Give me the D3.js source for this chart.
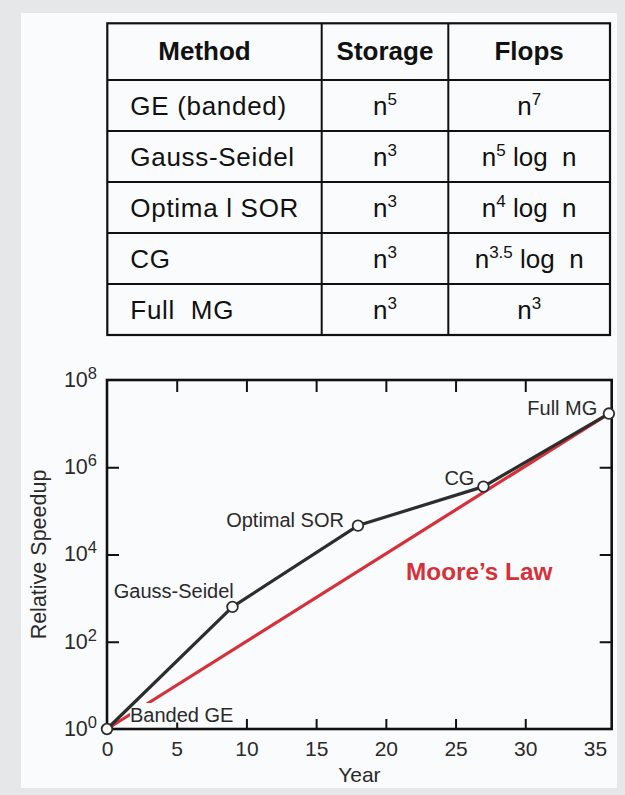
<!DOCTYPE html>
<html>
<head>
<meta charset="utf-8">
<script src="https://cdn.jsdelivr.net/npm/d3@7"></script>
<style>
body{margin:0;background:#e6e7e9;}
svg{display:block;font-family:"Liberation Sans",Arial,Helvetica,sans-serif;}
</style>
</head>
<body>
<svg id="chart" width="625" height="795"></svg>
<script>
// table data
const headers = ["Method", "Storage", "Flops"];
const methods = ["GE (banded)", "Gauss-Seidel", "Optima l SOR", "CG", "Full  MG"];
const storageExp = ["5", "3", "3", "3", "3"];
const flopsExp = ["7", "5", "4", "3.5", "3"];
const flopsLog = [false, true, true, true, false];

// plot data
const algNames = ["Banded GE", "Gauss-Seidel", "Optimal SOR", "CG", "Full MG"];
const algYears = [0, 9, 18, 27, 36];
const algSpeedup = [1, 630, 46000, 360000, 1.7e7];
const mooreYears = [0, 36];
const mooreSpeedup = [1, 1.7e7];
const xTickLabels = [0, 5, 10, 15, 20, 25, 30, 35];
const xTickMarks = [5, 10, 15, 20, 25, 30];
const yTickExp = [0, 2, 4, 6, 8];
const yTickMarksExp = [2, 4, 6];

const svg = d3.select("#chart");

// panel
svg.append("rect").attr("x", 21).attr("y", 13).attr("width", 596).attr("height", 775)
  .attr("fill", "#fafbfc");

// ---------- table ----------
const tLeft = 107.3, tTop = 23.3, headH = 56.7, rowH = 51;
const colX = [107.3, 321.7, 448.3, 610];
const headDx = [-10, 0, 0];
const tBottom = tTop + headH + methods.length * rowH;
const tab = svg.append("g");

tab.append("rect").attr("x", tLeft).attr("y", tTop)
  .attr("width", colX[3] - tLeft).attr("height", tBottom - tTop)
  .attr("fill", "none").attr("stroke", "#111").attr("stroke-width", 2.2);
tab.selectAll("line.col").data(colX.slice(1, 3)).enter().append("line")
  .attr("x1", d => d).attr("x2", d => d).attr("y1", tTop).attr("y2", tBottom)
  .attr("stroke", "#111").attr("stroke-width", 2);
tab.selectAll("line.row").data(d3.range(methods.length)).enter().append("line")
  .attr("x1", tLeft).attr("x2", colX[3])
  .attr("y1", i => tTop + headH + i * rowH).attr("y2", i => tTop + headH + i * rowH)
  .attr("stroke", "#111").attr("stroke-width", 2);

tab.selectAll("text.head").data(headers).enter().append("text")
  .attr("x", (d, i) => (colX[i] + colX[i + 1]) / 2 + headDx[i])
  .attr("y", tTop + headH / 2 + 8.5)
  .attr("text-anchor", "middle").attr("font-size", 26).attr("font-weight", "bold")
  .attr("fill", "#111").text(d => d);

const body = tab.selectAll("g.row").data(methods).enter().append("g")
  .attr("transform", (d, i) => `translate(0,${tTop + headH + i * rowH + rowH / 2 + 9})`);

body.append("text").attr("x", tLeft + 23).attr("font-size", 26).attr("fill", "#111")
  .attr("letter-spacing", 0.7).attr("xml:space", "preserve").text(d => d);

function power(sel, exp, rest) {
  sel.append("tspan").text("n");
  sel.append("tspan").attr("font-size", 17).attr("dy", -10).text(exp);
  if (rest) sel.append("tspan").attr("dy", 10).text(rest);
}

body.append("text").attr("x", (colX[1] + colX[2]) / 2).attr("text-anchor", "middle")
  .attr("font-size", 26).attr("fill", "#111")
  .each(function (d, i) { power(d3.select(this), storageExp[i], null); });

body.append("text").attr("x", (colX[2] + colX[3]) / 2).attr("text-anchor", "middle")
  .attr("font-size", 26).attr("fill", "#111").attr("xml:space", "preserve")
  .each(function (d, i) { power(d3.select(this), flopsExp[i], flopsLog[i] ? " log  n" : null); });

// ---------- plot ----------
const x = d3.scaleLinear().domain([0, 36.2]).range([107, 611.7]);
const y = d3.scaleLog().domain([1, 1e8]).range([729, 380]);

const axisColor = "#111", textColor = "#2a2a2a";

const gL = svg.append("g").attr("transform", `translate(${x(0)},0)`)
  .call(d3.axisLeft(y).tickValues(yTickExp.map(e => 10 ** e)).tickSizeInner(0).tickSizeOuter(0).tickPadding(10).tickFormat(""));
gL.select(".domain").remove();
gL.selectAll("text").attr("font-size", 21.5).attr("fill", textColor).attr("font-family", null)
  .attr("dy", "0.3em")
  .each(function (d) {
    const t = d3.select(this);
    t.append("tspan").text("10");
    t.append("tspan").attr("font-size", 16.5).attr("dy", -8).text(Math.round(Math.log10(d)));
  });

// inward ticks
svg.append("g").attr("transform", `translate(${x(0)},0)`)
  .call(d3.axisRight(y).tickValues(yTickMarksExp.map(e => 10 ** e)).tickSizeInner(12).tickSizeOuter(0).tickFormat(""))
  .call(g => g.select(".domain").remove())
  .selectAll("line").attr("stroke", axisColor).attr("stroke-width", 2);

svg.append("g").attr("transform", `translate(${x.range()[1]},0)`)
  .call(d3.axisLeft(y).tickValues(yTickMarksExp.map(e => 10 ** e)).tickSizeInner(12).tickSizeOuter(0).tickFormat(""))
  .call(g => g.select(".domain").remove())
  .selectAll("line").attr("stroke", axisColor).attr("stroke-width", 2);

const gB = svg.append("g").attr("transform", `translate(0,${y(1)})`)
  .call(d3.axisBottom(x).tickValues(xTickLabels).tickSizeInner(0).tickSizeOuter(0).tickPadding(12));
gB.select(".domain").remove();
gB.selectAll("line").remove();
gB.selectAll("text").attr("font-size", 21).attr("fill", textColor).attr("font-family", null);

svg.append("g").attr("transform", `translate(0,${y(1)})`)
  .call(d3.axisTop(x).tickValues(xTickMarks).tickSizeInner(10).tickSizeOuter(0).tickFormat(""))
  .call(g => g.select(".domain").remove())
  .selectAll("line").attr("stroke", axisColor).attr("stroke-width", 2);

svg.append("g").attr("transform", `translate(0,${y(1e8)})`)
  .call(d3.axisBottom(x).tickValues(xTickMarks).tickSizeInner(12).tickSizeOuter(0).tickFormat(""))
  .call(g => g.select(".domain").remove())
  .selectAll("line").attr("stroke", axisColor).attr("stroke-width", 2);

// axis titles
svg.append("text").attr("transform", `translate(46,${(y(1) + y(1e8)) / 2}) rotate(-90)`)
  .attr("text-anchor", "middle").attr("font-size", 21.5).attr("fill", textColor)
  .text("Relative Speedup");
svg.append("text").attr("x", (x.range()[0] + x.range()[1]) / 2).attr("y", 781.5)
  .attr("text-anchor", "middle").attr("font-size", 21).attr("fill", textColor).text("Year");

// Moore's law
const line = d3.line().x(d => x(d[0])).y(d => y(d[1]));
svg.append("path").datum(d3.zip(mooreYears, mooreSpeedup)).attr("d", line)
  .attr("fill", "none").attr("stroke", "#d5313a").attr("stroke-width", 3.2);
svg.append("text").attr("x", x(21.45)).attr("y", y(10 ** 3.415))
  .attr("font-size", 24.3).attr("font-weight", "bold").attr("fill", "#d5313a")
  .text("Moore\u2019s Law");

// label offsets (px) relative to each point
const labelDx = [23, 1.3, -14, -9, -11.6];
const labelDy = [-7, -9, 1, -1.7, 1];
const labelAnchor = ["start", "end", "end", "end", "end"];
const pts = d3.zip(algYears, algSpeedup);

// background behind "Banded GE"
svg.append("rect").attr("x", x(0) + 23).attr("y", y(1) - 26)
  .attr("width", 104).attr("height", 19.5).attr("fill", "#fafbfc");

svg.append("path").datum(pts).attr("d", line)
  .attr("fill", "none").attr("stroke", "#2d2d2d").attr("stroke-width", 3.2)
  .attr("stroke-linejoin", "round");

// frame
svg.append("rect").attr("x", x.range()[0]).attr("y", y(1e8))
  .attr("width", x.range()[1] - x.range()[0]).attr("height", y(1) - y(1e8))
  .attr("fill", "none").attr("stroke", axisColor).attr("stroke-width", 2.6);

svg.selectAll("text.alg").data(algNames).enter().append("text")
  .attr("x", (d, i) => x(algYears[i]) + labelDx[i])
  .attr("y", (d, i) => y(algSpeedup[i]) + labelDy[i])
  .attr("text-anchor", (d, i) => labelAnchor[i])
  .attr("font-size", 20).attr("fill", textColor).text(d => d);

svg.selectAll("circle.pt").data(pts).enter().append("circle")
  .attr("cx", d => x(d[0])).attr("cy", d => y(d[1])).attr("r", 5.3)
  .attr("fill", "#fff").attr("stroke", "#2d2d2d").attr("stroke-width", 1.8);
</script>
</body>
</html>
